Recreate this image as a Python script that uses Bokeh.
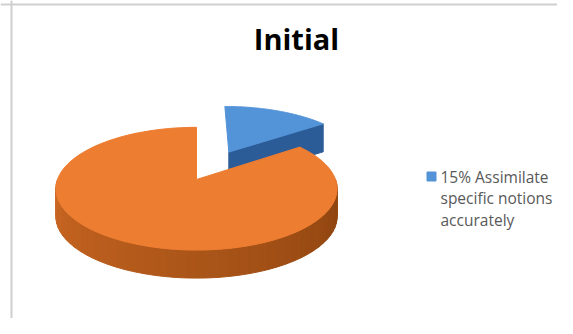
import numpy as np
from bokeh.plotting import figure
from bokeh.models import Range1d, Span, Label
from bokeh.embed import file_html
from bokeh.resources import INLINE

# ---- data ----
chart_title = "Initial"
categories = ["15% Assimilate specific notions accurately", "85%"]
legend_lines = ["15% Assimilate", "specific notions", "accurately"]
values = [15, 85]
in_legend = [True, False]
exploded = [True, False]
top_colors = ["#5393D8", "#ED7D31"]
wall_colors = ["#2C5C97", "#B5560F"]

# ---- layout / geometry (page pixel space) ----
W, H = 557, 318
p = figure(width=W, height=H, x_range=Range1d(0, W), y_range=Range1d(H, 0),
           output_backend="svg", toolbar_location=None, min_border=0,
           x_axis_type=None, y_axis_type=None)
p.xgrid.visible = False
p.ygrid.visible = False
p.outline_line_color = None
p.background_fill_color = "white"
p.border_fill_color = "white"

cx, cy, rx, ry, kp, depth, explode_r = 196.0, 179.0, 139.0, 60.0, 0.15, 28.0, 0.55


def proj(X, Y, dz=0.0):
    X = np.asarray(X, float)
    Y = np.asarray(Y, float)
    s = 1.0 / (1.0 + kp * Y)
    return cx + rx * X * s, cy - ry * Y * s + dz


def lerp_color(c0, c1, t):
    a = [int(c0[i:i + 2], 16) for i in (1, 3, 5)]
    b = [int(c1[i:i + 2], 16) for i in (1, 3, 5)]
    return "#%02x%02x%02x" % tuple(int(round(a[j] + (b[j] - a[j]) * t)) for j in range(3))


total = float(sum(values))
starts, ends = [], []
acc = 0.0
for v in values:
    starts.append(acc / total * 2 * np.pi)
    acc += v
    ends.append(acc / total * 2 * np.pi)

offsets = []
for i in range(len(values)):
    if exploded[i]:
        m = 0.5 * (starts[i] + ends[i])
        offsets.append((explode_r * np.sin(m), explode_r * np.cos(m)))
    else:
        offsets.append((0.0, 0.0))

# draw back slices first
order = sorted(range(len(values)), key=lambda i: -offsets[i][1])
for i in order:
    a0, a1 = starts[i], ends[i]
    ox, oy = offsets[i]
    # outer rim side (front-facing part)
    lo, hi = max(a0, np.pi / 2), min(a1, 3 * np.pi / 2)
    if hi > lo:
        n = 48
        edges = np.linspace(lo, hi, n + 1)
        xs_l, ys_l, cols = [], [], []
        for j in range(n):
            aa = np.linspace(edges[j], edges[j + 1], 3)
            X = ox + np.sin(aa)
            Y = oy + np.cos(aa)
            tx, ty = proj(X, Y)
            bx, by = proj(X, Y, depth)
            xs_l.append(list(tx) + list(bx[::-1]))
            ys_l.append(list(ty) + list(by[::-1]))
            t = (edges[j] + edges[j + 1]) / 2
            u = (3 * np.pi / 2 - t) / np.pi  # 0 at left, 1 at right
            cols.append(lerp_color("#CC6823", "#8A420E", u))
        p.patches(xs_l, ys_l, fill_color=cols, line_color=cols, line_width=1)
    # radial wall at end angle if front-facing
    if -np.sin(a1) < 0 and exploded[i]:
        X = [ox, ox + np.sin(a1)]
        Y = [oy, oy + np.cos(a1)]
        tx, ty = proj(X, Y)
        bx, by = proj(X, Y, depth)
        p.patch(list(tx) + list(bx[::-1]), list(ty) + list(by[::-1]),
                fill_color=wall_colors[i], line_color=wall_colors[i], line_width=1)
    # top face
    aa = np.linspace(a0, a1, 120)
    X = np.concatenate([[ox], ox + np.sin(aa)])
    Y = np.concatenate([[oy], oy + np.cos(aa)])
    tx, ty = proj(X, Y)
    p.patch(list(tx), list(ty), fill_color=top_colors[i], line_color=top_colors[i], line_width=1)

# chart border (left and top)
p.add_layout(Span(location=11, dimension="height", line_color="#cfcfcf", line_width=2))
p.add_layout(Span(location=4, dimension="width", line_color="#cfcfcf", line_width=2))

p.add_layout(Label(x=296, y=38, text=chart_title, text_align="center", text_baseline="middle",
                   text_font="Open Sans", text_font_style="bold", text_font_size="29px",
                   text_color="#000000"))

# legend (only the first slice is listed)
for i in range(len(values)):
    if in_legend[i]:
        p.scatter(x=[431], y=[176], marker="square", size=9,
                  fill_color=top_colors[i], line_color=top_colors[i])
        for j, line in enumerate(legend_lines):
            p.add_layout(Label(x=440, y=176 + 21.5 * j, text=line, text_align="left",
                               text_baseline="middle", text_font="Open Sans",
                               text_font_size="15.5px", text_color="#595959"))

open("out.html", "w").write(file_html(p, INLINE))
